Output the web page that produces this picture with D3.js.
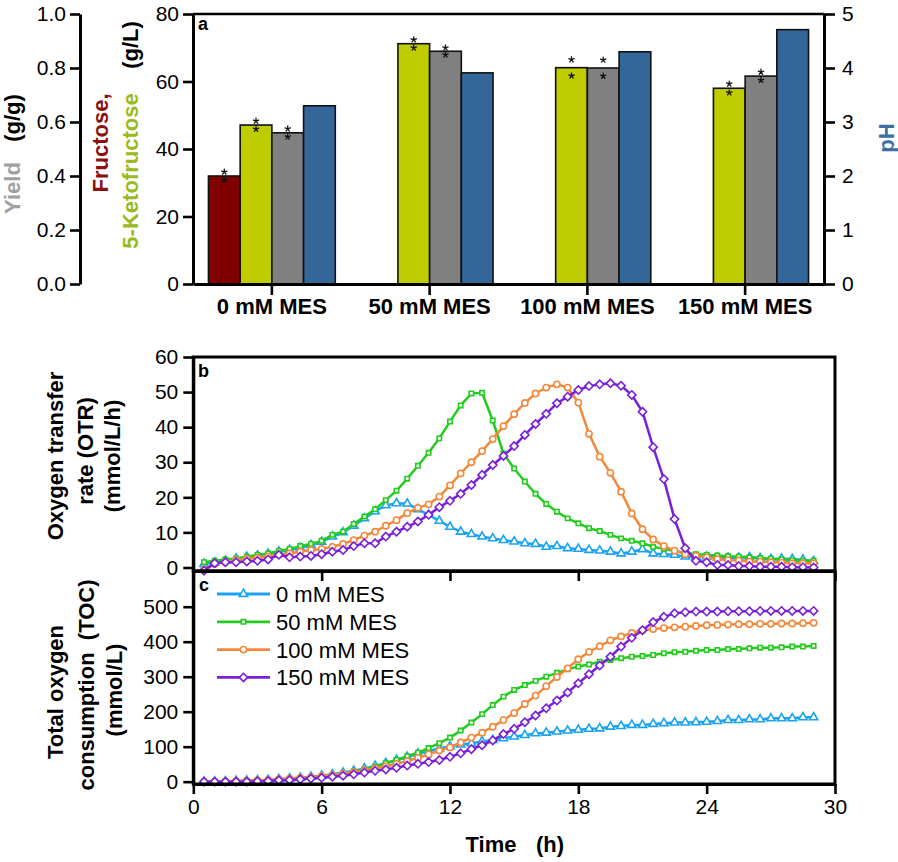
<!DOCTYPE html>
<html><head><meta charset="utf-8">
<script src="https://cdn.jsdelivr.net/npm/d3@7"></script>
<style>body{margin:0;background:#fff} svg{display:block} text{font-family:"Liberation Sans",Arial,sans-serif}</style>
</head><body><svg id="chart" width="898" height="862"></svg>
<script>
// ---------- Panel a data ----------
const groups = ["0 mM MES", "50 mM MES", "100 mM MES", "150 mM MES"];
const fructose = [32.0, null, null, null];
const ketofructose = [47.1, 71.2, 64.1, 58.0];
const yieldGG = [0.56, 0.862, 0.80, 0.77];
const pHvals = [3.30, 3.91, 4.30, 4.71];
const fructoseSD = [1.2, null, null, null];
const ketoSD = [1.2, 1.2, 2.4, 1.3];
const yieldSD = [0.015, 0.013, 0.03, 0.015];
const gLTicks = [0, 20, 40, 60, 80];
const yieldTicks = [0, 0.2, 0.4, 0.6, 0.8, 1.0];
const pHTicks = [0, 1, 2, 3, 4, 5];

// ---------- Panels b, c data ----------
const seriesNames = ["0 mM MES", "50 mM MES", "100 mM MES", "150 mM MES"];
const times = [0.5,1,1.5,2,2.5,3,3.5,4,4.5,5,5.5,6,6.5,7,7.5,8,8.5,9,9.5,10,
  10.5,11,11.5,12,12.5,13,13.5,14,14.5,15,15.5,16,16.5,17,17.5,18,18.5,19,19.5,20,
  20.5,21,21.5,22,22.5,23,23.5,24,24.5,25,25.5,26,26.5,27,27.5,28,28.5,29];
const timeTicks = [0, 6, 12, 18, 24, 30];
const otrTicks = [0, 10, 20, 30, 40, 50, 60];
const tocTicks = [0, 100, 200, 300, 400, 500];

const otr0 = [1.0,1.4,1.9,2.5,3.0,3.4,3.9,4.5,5.0,5.6,
  6.4,7.3,8.8,10.0,11.9,14.0,16.0,17.7,18.3,18.2,
  16.6,15.0,13.3,11.6,10.2,9.5,8.8,8.3,7.8,7.4,
  6.9,6.7,5.9,6.1,5.5,5.3,5.0,4.8,4.5,4.0,
  4.5,5.2,4.0,3.8,3.6,3.1,3.0,3.1,2.8,2.8,
  2.8,2.9,2.6,2.4,2.5,2.4,2.2,1.8];
const otr50 = [1.5,1.9,2.3,2.6,3.1,3.6,4.0,4.7,5.3,6.1,
  6.7,7.6,9.3,10.2,12.4,14.5,16.6,19.2,21.9,25.3,
  29.0,32.7,36.8,41.6,46.2,49.6,49.8,41.9,32.5,28.2,
  24.5,21.0,18.1,15.9,14.0,12.6,11.2,10.4,9.3,8.3,
  7.6,6.9,5.9,5.3,4.7,4.2,3.8,3.6,3.4,3.2,
  3.1,2.9,2.7,2.5,2.3,2.1,1.9,1.9];
const otr100 = [-0.6,1.0,1.6,2.1,2.5,2.8,3.2,3.6,4.0,4.5,
  5.0,5.3,5.9,6.7,7.8,9.1,10.2,11.9,13.5,15.5,
  17.0,18.0,20.2,23.4,26.8,30.0,33.2,36.6,40.3,43.7,
  46.9,49.6,51.3,52.2,51.3,47.0,38.1,31.6,27.0,21.6,
  15.4,10.9,8.0,6.1,4.8,3.8,3.3,2.9,2.4,2.1,
  2.0,1.7,1.7,1.5,1.4,1.2,1.2,1.2];
const otr150 = [-0.9,1.2,1.5,1.5,1.7,1.9,2.3,3.6,2.9,3.1,
  3.3,3.8,4.5,5.0,6.1,6.9,6.9,8.8,10.2,11.6,
  13.1,15.0,17.2,19.0,21.0,23.5,26.4,29.2,31.8,34.6,
  37.8,40.9,43.8,46.8,48.7,50.6,51.7,52.2,52.5,51.8,
  49.2,44.4,34.3,25.2,13.8,5.5,1.9,1.5,0.7,0.7,
  0.4,0.4,0.2,0.2,0.2,0.1,0.1,0.0];

const toc0 = [0,0,1,2,3,4,5,7,9,11,
  14,17,21,26,31,38,45,53,62,71,
  80,88,95,101,106,110,115,119,124,129,
  133,138,140,143,146,148,151,152,157,159,
  162,162,165,167,169,169,170,171,173,176,
  176,178,178,181,181,181,184,184];
const toc50 = [0,0,1,1,2,3,4,5,7,8,
  10,14,17,22,29,35,43,53,62,73,
  83,96,110,126,146,169,193,219,243,262,
  276,288,300,311,321,329,335,343,348,353,
  357,359,362,367,370,371,374,376,376,379,
  379,381,383,383,384,386,386,388];
const toc100 = [0,0,1,2,3,4,5,7,9,11,
  13,16,19,23,27,32,38,44,51,59,
  68,78,89,98,112,126,140,157,176,196,
  222,246,273,299,324,350,371,387,404,415,
  425,433,436,439,441,443,445,447,448,449,
  450,450,451,451,452,452,453,454];
const toc150 = [0,0,0,0,0,1,2,4,5,7,
  9,11,14,17,21,26,31,35,40,46,
  51,56,62,71,81,93,104,118,136,151,
  170,189,210,232,255,281,307,332,357,386,
  411,433,456,471,481,484,486,486,486,487,
  487,487,488,488,488,488,488,488];

// ---------- styles ----------
const barColors = {fru: "#800000", kf: "#bfcc00", yld: "#808080", ph: "#336699"};
const seriesColors = ["#1ba3f0", "#22cc1c", "#f4883a", "#7a1fd8"];
const FONT = '"Liberation Sans", Arial, sans-serif';

const svg = d3.select("#chart");

function styleAxis(g, size, bold) {
  g.attr("font-family", FONT).attr("font-size", size).attr("font-weight", bold ? "bold" : "normal");
  g.selectAll(".domain").attr("stroke", "#000").attr("stroke-width", 3);
  g.selectAll(".tick line").attr("stroke", "#000").attr("stroke-width", 2.6);
  g.selectAll(".tick text").attr("fill", "#000");
}
function vText(x, y, txt, color, size) {
  return svg.append("text")
    .attr("transform", `translate(${x},${y}) rotate(-90)`)
    .attr("text-anchor", "middle").attr("dy", "0.35em")
    .attr("font-family", FONT).attr("font-weight", "bold")
    .attr("font-size", size || 22).attr("fill", color || "#000").text(txt);
}

// ================= Panel a =================
const aL = 193, aR = 824, aT = 14, aB = 284;
const xBand = d3.scaleBand().domain(groups).range([aL, aR]);
const bw = xBand.bandwidth();
const keys = ["fru", "kf", "yld", "ph"];
const xInner = d3.scaleBand().domain(keys).range([bw * 0.098, bw * 0.902]);
const yGL = d3.scaleLinear().domain([0, 80]).range([aB, aT]);
const yYield = d3.scaleLinear().domain([0, 1]).range([aB, aT]);
const yPH = d3.scaleLinear().domain([0, 5]).range([aB, aT]);

const barData = [];
groups.forEach((g, i) => {
  barData.push({g, key: "fru", v: fructose[i], sd: fructoseSD[i], s: yGL});
  barData.push({g, key: "kf", v: ketofructose[i], sd: ketoSD[i], s: yGL});
  barData.push({g, key: "yld", v: yieldGG[i], sd: yieldSD[i], s: yYield});
  barData.push({g, key: "ph", v: pHvals[i], sd: null, s: yPH});
});
const bars = barData.filter(d => d.v !== null);
svg.append("g").selectAll("rect").data(bars).join("rect")
  .attr("x", d => xBand(d.g) + xInner(d.key))
  .attr("width", xInner.bandwidth())
  .attr("y", d => d.s(d.v))
  .attr("height", d => aB - d.s(d.v))
  .attr("fill", d => barColors[d.key])
  .attr("stroke", "#111").attr("stroke-width", 1.6);

// asterisk marks (drawn as small 5-armed stars)
const starType = {draw(ctx, size) {
  const r = Math.sqrt(size);
  for (let k = 0; k < 5; k++) {
    const a = -Math.PI / 2 + k * 2 * Math.PI / 5;
    ctx.moveTo(0, 0); ctx.lineTo(r * Math.cos(a), r * Math.sin(a));
  }
}};
const starSym = d3.symbol().type(starType).size(8);
const stars = [];
bars.filter(d => d.sd !== null).forEach(d => {
  const cx = xBand(d.g) + xInner(d.key) + xInner.bandwidth() / 2;
  stars.push({cx, cy: d.s(d.v + d.sd)});
  stars.push({cx, cy: d.s(d.v - d.sd)});
});
svg.append("g").selectAll("path").data(stars).join("path")
  .attr("transform", d => `translate(${d.cx},${d.cy})`)
  .attr("d", starSym()).attr("fill", "none")
  .attr("stroke", "#111").attr("stroke-width", 1.3).attr("stroke-linecap", "round");

// top border
svg.append("line").attr("x1", aL).attr("x2", aR).attr("y1", aT).attr("y2", aT)
  .attr("stroke", "#000").attr("stroke-width", 2.6);

// axes
styleAxis(svg.append("g").attr("transform", `translate(${aL},0)`)
  .call(d3.axisLeft(yGL).tickValues(gLTicks).tickSize(10).tickSizeOuter(0).tickPadding(4)), 21);
styleAxis(svg.append("g").attr("transform", `translate(80,0)`)
  .call(d3.axisLeft(yYield).tickValues(yieldTicks).tickFormat(d3.format(".1f")).tickSize(10).tickSizeOuter(0).tickPadding(4)), 21);
styleAxis(svg.append("g").attr("transform", `translate(${aR},0)`)
  .call(d3.axisRight(yPH).tickValues(pHTicks).tickFormat(d3.format("d")).tickSize(11).tickSizeOuter(0).tickPadding(7)), 21);
styleAxis(svg.append("g").attr("transform", `translate(0,${aB})`)
  .call(d3.axisBottom(xBand).tickSize(11).tickSizeOuter(0).tickPadding(3)), 22, true);

// axis titles panel a
vText(12, 188, "Yield", "#a0a0a0");
vText(12, 118, "(g/g)", "#000");
vText(100, 143, "Fructose,", "#8b1010");
vText(130, 171, "5-Ketofructose", "#9aba22");
vText(130, 45, "(g/L)", "#000");
vText(886, 138, "pH", "#3d6ea6");
svg.append("text").attr("x", 198).attr("y", 30).attr("font-family", FONT)
  .attr("font-weight", "bold").attr("font-size", 18).text("a");

// ================= Panels b & c =================
const pL = 193.3, pR = 835;
const bT = 357, bB = 571, cT = 571, cB = 784;
const x = d3.scaleLinear().domain([0, 30]).range([pL, pR]);
const yB = d3.scaleLinear().domain([-1, 60]).range([bB, bT]);
const yC = d3.scaleLinear().domain([-6.6, 602]).range([cB, cT]);

const otrSeries = [otr0, otr50, otr100, otr150];
const tocSeries = [toc0, toc50, toc100, toc150];

const diamondType = {draw(ctx, size) { const r = Math.sqrt(size / 2);
  ctx.moveTo(0, -r); ctx.lineTo(r, 0); ctx.lineTo(0, r); ctx.lineTo(-r, 0); ctx.closePath(); }};
const symbols = [
  d3.symbol().type(d3.symbolTriangle).size(30),
  d3.symbol().type(d3.symbolSquare).size(19),
  d3.symbol().type(d3.symbolCircle).size(30),
  d3.symbol().type(diamondType).size(34)
];

function drawSeries(data, yS) {
  data.forEach((vals, si) => {
    const g = svg.append("g");
    const line = d3.line().x((d, i) => x(times[i])).y(d => yS(d));
    g.append("path").datum(vals).attr("d", line).attr("fill", "none")
      .attr("stroke", seriesColors[si]).attr("stroke-width", 2.5).attr("stroke-linejoin", "round");
    g.selectAll("path.m").data(vals).join("path").attr("class", "m")
      .attr("transform", (d, i) => `translate(${x(times[i])},${yS(d)})`)
      .attr("d", symbols[si]()).attr("fill", "#fff")
      .attr("stroke", seriesColors[si]).attr("stroke-width", 1.6);
  });
}
drawSeries(otrSeries, yB);
drawSeries(tocSeries, yC);

// panel frames
[[bT, bB], [cT, cB]].forEach(([t, b]) => {
  svg.append("rect").attr("x", pL).attr("y", t).attr("width", pR - pL).attr("height", b - t)
    .attr("fill", "none").attr("stroke", "#000").attr("stroke-width", 3);
});

styleAxis(svg.append("g").attr("transform", `translate(${pL},0)`)
  .call(d3.axisLeft(yB).tickValues(otrTicks).tickSize(10).tickSizeOuter(0).tickPadding(5)), 21);
styleAxis(svg.append("g").attr("transform", `translate(${pL},0)`)
  .call(d3.axisLeft(yC).tickValues(tocTicks).tickSize(10).tickSizeOuter(0).tickPadding(5)), 21);
styleAxis(svg.append("g").attr("transform", `translate(0,${bB})`)
  .call(d3.axisBottom(x).tickValues(timeTicks).tickFormat("").tickSize(10).tickSizeOuter(0)), 21);
styleAxis(svg.append("g").attr("transform", `translate(0,${cB})`)
  .call(d3.axisBottom(x).tickValues(timeTicks).tickSize(10).tickSizeOuter(0).tickPadding(5)), 21);

// titles
vText(55, 456, "Oxygen transfer");
vText(85, 451, "rate (OTR)");
vText(112, 456, "(mmol/L/h)");
vText(55, 692, "Total oxygen");
vText(86, 685, "consumption  (TOC)").attr("xml:space", "preserve").style("white-space", "pre");
vText(114, 690, "(mmol/L)");
svg.append("text").attr("x", 491).attr("y", 852).attr("text-anchor", "middle")
  .attr("font-family", FONT).attr("font-weight", "bold").attr("font-size", 22).text("Time");
svg.append("text").attr("x", 550).attr("y", 852).attr("text-anchor", "middle")
  .attr("font-family", FONT).attr("font-weight", "bold").attr("font-size", 22).text("(h)");
svg.append("text").attr("x", 198).attr("y", 377).attr("font-family", FONT)
  .attr("font-weight", "bold").attr("font-size", 18).text("b");
svg.append("text").attr("x", 199).attr("y", 591).attr("font-family", FONT)
  .attr("font-weight", "bold").attr("font-size", 18).text("c");

// legend
seriesNames.forEach((name, i) => {
  const ly = 594 + 27.8 * i;
  const g = svg.append("g");
  g.append("line").attr("x1", 217).attr("x2", 270).attr("y1", ly).attr("y2", ly)
    .attr("stroke", seriesColors[i]).attr("stroke-width", 2.8);
  g.append("path").attr("transform", `translate(243.5,${ly})`).attr("d", symbols[i]())
    .attr("fill", "#fff").attr("stroke", seriesColors[i]).attr("stroke-width", 1.6);
  g.append("text").attr("x", 276).attr("y", ly).attr("dy", "0.36em")
    .attr("font-family", FONT).attr("font-size", 22).attr("fill", "#000").text(name);
});
</script></body></html>
